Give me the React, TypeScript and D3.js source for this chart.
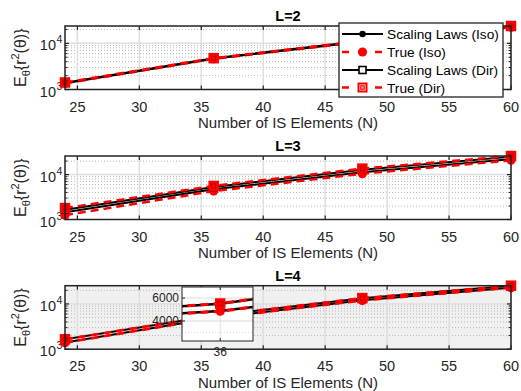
import React from "react";
import * as d3 from "d3";

const N_VALUES = [24, 36, 48, 60];
const X_TICKS = [25, 30, 35, 40, 45, 50, 55, 60];
const PANEL_TITLES = ["L=2", "L=3", "L=4"];
const SERIES_NAMES = ["Scaling Laws (Iso)", "True (Iso)", "Scaling Laws (Dir)", "True (Dir)"];

const L2_SCALING_ISO = [1370, 4650, 10900, 22500];
const L2_TRUE_ISO = [1360, 4630, 10850, 22400];
const L2_SCALING_DIR = [1400, 4750, 11200, 23300];
const L2_TRUE_DIR = [1420, 4780, 11300, 23800];

const L3_SCALING_ISO = [1450, 4700, 11300, 22000];
const L3_TRUE_ISO = [1250, 4300, 10500, 20800];
const L3_SCALING_DIR = [1650, 5300, 12900, 25000];
const L3_TRUE_DIR = [1800, 5600, 13600, 26000];

const L4_SCALING_ISO = [1400, 4870, 12000, 23000];
const L4_TRUE_ISO = [1390, 4850, 11950, 22900];
const L4_SCALING_DIR = [1650, 5500, 13400, 25300];
const L4_TRUE_DIR = [1660, 5520, 13450, 25300];

const Y_MAX = [23800, 26000, 25300];
const INSET_X_DOMAIN = [35.3, 36.6];
const INSET_Y_DOMAIN = [2260, 6960];
const INSET_Y_TICKS = [4000, 6000];
const INSET_X_TICKS = [36];

const PANELS = [
  [L2_SCALING_ISO, L2_TRUE_ISO, L2_SCALING_DIR, L2_TRUE_DIR],
  [L3_SCALING_ISO, L3_TRUE_ISO, L3_SCALING_DIR, L3_TRUE_DIR],
  [L4_SCALING_ISO, L4_TRUE_ISO, L4_SCALING_DIR, L4_TRUE_DIR],
];

const FONT = "'Liberation Sans', Arial, Helvetica, sans-serif";
const STYLES = [
  { color: "#000", dash: null, width: 2, marker: "circle" },
  { color: "#ff0000", dash: "8,5", width: 2.5, marker: "circleRed" },
  { color: "#000", dash: null, width: 2, marker: "square" },
  { color: "#ff0000", dash: "8,5", width: 2.5, marker: "squareRed" },
];

function Marker({ kind, cx, cy }: { kind: string; cx: number; cy: number }) {
  if (kind === "circle") return <circle cx={cx} cy={cy} r={3.2} fill="#000" />;
  if (kind === "circleRed") return <circle cx={cx} cy={cy} r={4.6} fill="#ff0000" />;
  if (kind === "square")
    return <rect x={cx - 3.5} y={cy - 3.5} width={7} height={7} fill="none" stroke="#000" strokeWidth={1.5} />;
  return (
    <g>
      <rect x={cx - 4.5} y={cy - 4.5} width={9} height={9} fill="#ff0000" stroke="#ff0000" strokeWidth={1.5} />
      <rect x={cx - 2} y={cy - 2} width={4} height={4} fill="none" stroke="#b00000" strokeWidth={0.8} />
    </g>
  );
}

const LEFT = 65;
const RIGHT = 511;
const TOPS = [26, 156, 285.7];
const PH = 63.5;
const BGS = ["#ffffff", "#ffffff", "#f0f0f0"];

function Panel({ idx }: { idx: number }) {
  const top = TOPS[idx];
  const bottom = top + PH;
  const x = d3.scaleLinear().domain([24, 60]).range([LEFT, RIGHT]);
  const y = d3.scaleLog().domain([1000, Y_MAX[idx]]).range([bottom, top]);
  const minor: number[] = [];
  for (const dec of [1000, 10000]) {
    for (let k = 2; k <= 9; k++) {
      const v = dec * k;
      if (v < Y_MAX[idx]) minor.push(v);
    }
  }
  const data = PANELS[idx];
  const clipId = `clip${idx}`;
  const line = (vals: number[]) =>
    d3
      .line<number>()
      .x((_, i) => x(N_VALUES[i]))
      .y((d) => y(d))(vals) as string;

  return (
    <g>
      <defs>
        <clipPath id={clipId}>
          <rect x={LEFT} y={top} width={RIGHT - LEFT} height={PH} />
        </clipPath>
      </defs>
      <rect x={LEFT} y={top} width={RIGHT - LEFT} height={PH} fill={BGS[idx]} />
      {minor.map((v) => (
        <line key={"mg" + v} x1={LEFT} x2={RIGHT} y1={y(v)} y2={y(v)} stroke="#b8b8b8" strokeWidth={1} strokeDasharray="1,2" />
      ))}
      {X_TICKS.map((t) => (
        <line key={"gx" + t} x1={x(t)} x2={x(t)} y1={top} y2={bottom} stroke="#dedede" strokeWidth={1.5} />
      ))}
      <line x1={LEFT} x2={RIGHT} y1={y(10000)} y2={y(10000)} stroke="#dedede" strokeWidth={1.5} />
      <g clipPath={`url(#${clipId})`}>
        {data.map((vals, s) => (
          <path
            key={"l" + s}
            d={line(vals)}
            fill="none"
            stroke={STYLES[s].color}
            strokeWidth={STYLES[s].width}
            strokeDasharray={STYLES[s].dash || undefined}
          />
        ))}
      </g>
      {X_TICKS.map((t) => (
        <g key={"tx" + t}>
          <line x1={x(t)} x2={x(t)} y1={bottom} y2={bottom - 4} stroke="#222" strokeWidth={1.2} />
          <line x1={x(t)} x2={x(t)} y1={top} y2={top + 4} stroke="#222" strokeWidth={1.2} />
          <text x={x(t)} y={bottom + 22} textAnchor="middle" fontSize={14.5} fontFamily={FONT} fill="#262626">
            {t}
          </text>
        </g>
      ))}
      {[1000, 10000].map((v) => (
        <g key={"ty" + v}>
          <line x1={LEFT} x2={LEFT + 4} y1={y(v)} y2={y(v)} stroke="#222" strokeWidth={1.2} />
          <line x1={RIGHT} x2={RIGHT - 4} y1={y(v)} y2={y(v)} stroke="#222" strokeWidth={1.2} />
          <text x={LEFT - 9} y={y(v) + 7} textAnchor="end" fontSize={14.5} fontFamily={FONT} fill="#262626">
            10
          </text>
          <text x={LEFT - 8.5} y={y(v)} textAnchor="start" fontSize={10.5} fontFamily={FONT} fill="#262626">
            {Math.round(Math.log10(v))}
          </text>
        </g>
      ))}
      {minor.map((v) => (
        <g key={"mt" + v}>
          <line x1={LEFT} x2={LEFT + 2.5} y1={y(v)} y2={y(v)} stroke="#222" strokeWidth={1} />
          <line x1={RIGHT} x2={RIGHT - 2.5} y1={y(v)} y2={y(v)} stroke="#222" strokeWidth={1} />
        </g>
      ))}
      {data.map((vals, s) =>
        vals.map((v, i) => <Marker key={`m${s}-${i}`} kind={STYLES[s].marker} cx={x(N_VALUES[i])} cy={y(v)} />)
      )}
      <rect x={LEFT} y={top} width={RIGHT - LEFT} height={PH} fill="none" stroke="#222" strokeWidth={1.5} />
      <text x={(LEFT + RIGHT) / 2} y={top - 5} textAnchor="middle" fontSize={14.5} fontWeight="bold" fontFamily={FONT} fill="#000">
        {PANEL_TITLES[idx]}
      </text>
      <text x={(LEFT + RIGHT) / 2} y={bottom + 38.5} textAnchor="middle" fontSize={15} fontFamily={FONT} fill="#262626">
        Number of IS Elements (N)
      </text>
      <g transform={`translate(26, ${(top + bottom) / 2}) rotate(-90)`}>
        <text textAnchor="middle" fontSize={16} fontFamily={FONT} fill="#262626">
          E<tspan fontSize={11} dy={4}>θ</tspan>
          <tspan dy={-4}>{"{r"}</tspan>
          <tspan fontSize={11} dy={-7}>2</tspan>
          <tspan dy={7}>{"(θ)}"}</tspan>
        </text>
      </g>
    </g>
  );
}

function Legend() {
  const rows = [34, 52, 70, 87.5];
  return (
    <g>
      <rect x={339} y={23} width={164} height={74} fill="#fff" stroke="#222" strokeWidth={1.3} />
      {SERIES_NAMES.map((name, i) => (
        <g key={name}>
          <line
            x1={342}
            x2={383}
            y1={rows[i]}
            y2={rows[i]}
            stroke={STYLES[i].color}
            strokeWidth={STYLES[i].width}
            strokeDasharray={STYLES[i].dash ? "7,9.5" : undefined}
          />
          {i === 3 ? (
            <g>
              <rect x={358.5} y={rows[i] - 4} width={8} height={8} fill="#fff" stroke="#ff0000" strokeWidth={2} />
              <rect x={360.7} y={rows[i] - 1.8} width={3.6} height={3.6} fill="#ff9090" stroke="#ff0000" strokeWidth={1} />
            </g>
          ) : i === 2 ? (
            <rect x={359} y={rows[i] - 3.5} width={7} height={7} fill="#fff" stroke="#000" strokeWidth={1.6} />
          ) : (
            <Marker kind={STYLES[i].marker} cx={362.5} cy={rows[i]} />
          )}
          <text x={387} y={rows[i] + 5} fontSize={13.7} fontFamily={FONT} fill="#000">
            {name}
          </text>
        </g>
      ))}
    </g>
  );
}

function Inset() {
  const x0 = 182, x1 = 253, y0 = 287, y1 = 341;
  const x = d3.scaleLinear().domain(INSET_X_DOMAIN).range([x0, x1]);
  const y = d3.scaleLinear().domain(INSET_Y_DOMAIN).range([y1, y0]);
  const data = PANELS[2];
  const line = (vals: number[]) =>
    d3
      .line<number>()
      .x((_, i) => x(N_VALUES[i]))
      .y((d) => y(d))(vals) as string;
  const gridY = [3000, 4000, 5000, 6000];
  return (
    <g>
      <defs>
        <clipPath id="insetclip">
          <rect x={x0} y={y0} width={x1 - x0} height={y1 - y0} />
        </clipPath>
      </defs>
      <rect x={x0} y={y0} width={x1 - x0} height={y1 - y0} fill="#fff" />
      {gridY.map((v) => (
        <line key={v} x1={x0} x2={x1} y1={y(v)} y2={y(v)} stroke="#d0d0d0" strokeWidth={0.8} strokeDasharray={v % 2000 === 0 ? undefined : "1,2"} />
      ))}
      {INSET_X_TICKS.map((t) => (
        <line key={t} x1={x(t)} x2={x(t)} y1={y0} y2={y1} stroke="#d8d8d8" strokeWidth={0.8} />
      ))}
      <g clipPath="url(#insetclip)">
        {data.map((vals, s) => (
          <path
            key={"il" + s}
            d={line(vals)}
            fill="none"
            stroke={STYLES[s].color}
            strokeWidth={STYLES[s].width + 0.5}
            strokeDasharray={STYLES[s].dash || undefined}
          />
        ))}
        {data.map((vals, s) =>
          vals.map((v, i) => <Marker key={`im${s}-${i}`} kind={STYLES[s].marker} cx={x(N_VALUES[i])} cy={y(v)} />)
        )}
      </g>
      {INSET_Y_TICKS.map((v) => (
        <g key={"iy" + v}>
          <line x1={x0} x2={x0 + 3} y1={y(v)} y2={y(v)} stroke="#222" strokeWidth={1} />
          <text x={x0 - 3} y={y(v) + 4} textAnchor="end" fontSize={12} fontFamily={FONT} fill="#262626">
            {v}
          </text>
        </g>
      ))}
      {INSET_X_TICKS.map((t) => (
        <g key={"ix" + t}>
          <line x1={x(t)} x2={x(t)} y1={y1} y2={y1 - 3} stroke="#222" strokeWidth={1} />
          <line x1={x(t)} x2={x(t)} y1={y0} y2={y0 + 3} stroke="#222" strokeWidth={1} />
          <text x={x(t)} y={y1 + 15} textAnchor="middle" fontSize={12} fontFamily={FONT} fill="#262626">
            {t}
          </text>
        </g>
      ))}
      <rect x={x0} y={y0} width={x1 - x0} height={y1 - y0} fill="none" stroke="#222" strokeWidth={1} />
    </g>
  );
}

export default function App() {
  return (
    <svg width={521} height={391} style={{ position: "absolute", left: 0, top: 0, background: "#fff" }}>
      <rect x={0} y={0} width={521} height={391} fill="#fff" />
      {[0, 1, 2].map((i) => (
        <Panel key={i} idx={i} />
      ))}
      <Legend />
      <Inset />
    </svg>
  );
}
